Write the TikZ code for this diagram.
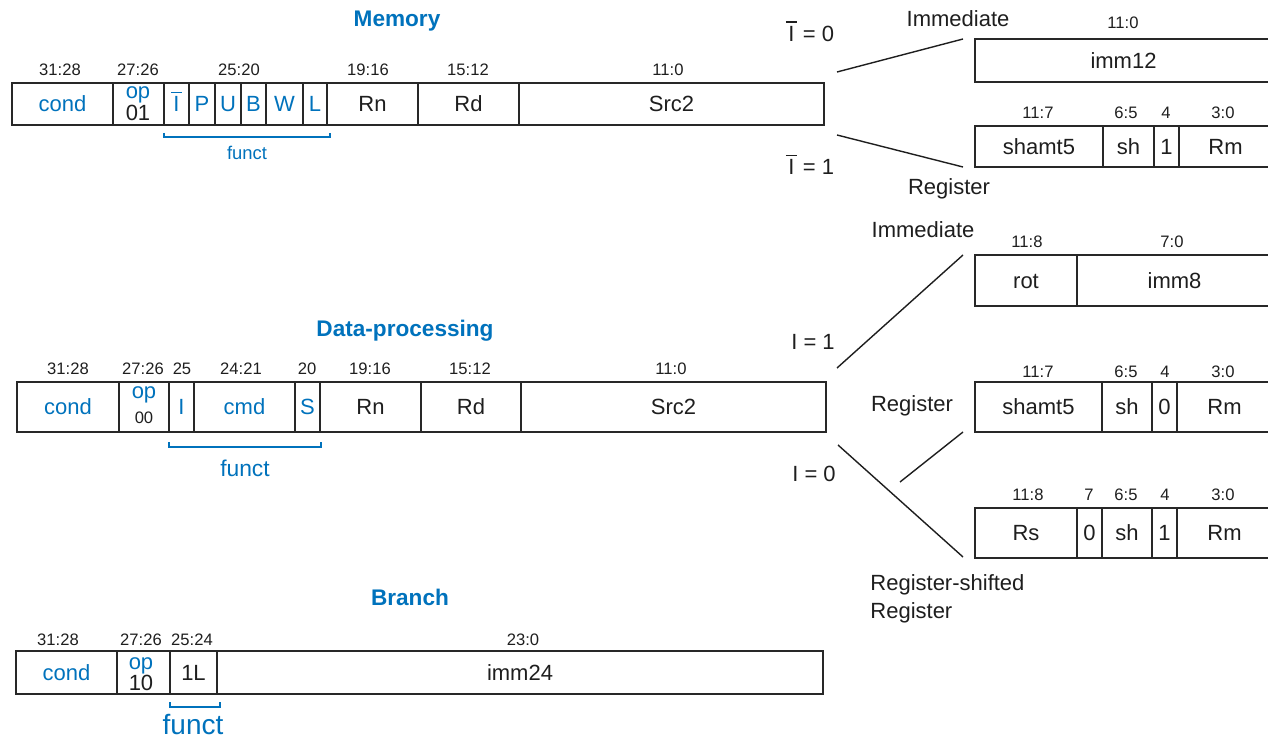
\documentclass[tikz,border=0pt]{standalone}
\usepackage{fontspec}
\setmainfont{Liberation Sans}
\definecolor{armblue}{RGB}{0,114,188}
\definecolor{ink}{RGB}{30,30,30}
\definecolor{edge}{RGB}{40,40,40}
% capital I with a wide bar over it (inverted immediate bit)
\newcommand{\barI}{\vbox{\hrule width 0.5em height 0.065em\kern 0.16em\hbox to 0.5em{\hss I\hss}}}
% one field of an instruction word: [style]{name}{x1}{x2}{y1}{y2}{text}
\newcommand{\fld}[7][]{%
  \pgfmathsetmacro{\fldw}{(#4-#3)*0.5}%
  \pgfmathsetmacro{\fldh}{(#6-#5)*0.5}%
  \node[cell,#1,minimum width=\fldw pt,minimum height=\fldh pt]
    (#2) at ({(#3+#4)/2},{(#5+#6)/2}) {#7};}
\begin{document}
\begin{tikzpicture}[x=0.5pt,y=-0.5pt,
  % every text box spans baseline to cap height, so "at" is the cap middle
  cap/.style={text height=#1, text depth=0pt},
  cell/.style={draw=edge, line width=0.9pt, inner sep=0pt, text=ink,
               font=\fontsize{11}{13}\selectfont, cap=7.9pt},
  blu/.style={text=armblue},
  bits/.style={text=ink, inner sep=0pt, font=\fontsize{8.3}{10}\selectfont, cap=5.95pt},
  lbl/.style={text=ink, inner sep=0pt, font=\fontsize{11}{13}\selectfont, cap=7.9pt},
  small/.style={font=\fontsize{8.3}{10}\selectfont},
  title/.style={text=armblue, inner sep=0pt, font=\fontsize{11.3}{13}\selectfont\bfseries, cap=8.1pt},
  link/.style={draw=ink, line width=0.7pt},
  brace/.style={draw=armblue, line width=0.75pt},
  functlbl/.style={text=armblue, inner sep=0pt}]
\path[use as bounding box] (0,0) rectangle (1268,737);
\clip (0,0) rectangle (1268,737);

% ---------------- Memory ----------------
\node[title] (t-mem) at (397,18.5) {Memory};
\fld[blu]{m-cond}{12}{113}{83}{125}{cond}
\fld{m-op}{113}{164}{83}{125}{}
\fld[blu]{m-nI}{164}{189}{83}{125}{\barI}
\fld[blu]{m-P}{189}{215}{83}{125}{P}
\fld[blu]{m-U}{215}{241}{83}{125}{U}
\fld[blu]{m-B}{241}{266}{83}{125}{B}
\fld[blu]{m-W}{266}{303}{83}{125}{W}
\fld[blu]{m-L}{303}{327}{83}{125}{L}
\fld{m-Rn}{327}{418}{83}{125}{Rn}
\fld{m-Rd}{418}{519}{83}{125}{Rd}
\fld{m-src}{519}{824}{83}{125}{Src2}
\node[lbl,blu,anchor=base] (m-op-t) at (138,99) {op};
\node[lbl,anchor=base] (m-op-v) at (138,120.5) {01};
\node[bits] (m-b1) at (60,70) {31:28};
\node[bits] (m-b2) at (138,70) {27:26};
\node[bits] (m-b3) at (239,70) {25:20};
\node[bits] (m-b4) at (368,70) {19:16};
\node[bits] (m-b5) at (468,70) {15:12};
\node[bits] (m-b6) at (668,70) {11:0};
\coordinate (m-fa) at (164,133);
\coordinate (m-fb) at (330,133);
\draw[brace] (m-fa) -- ++(0,4) -| (m-fb);
\node[functlbl, font=\fontsize{9.2}{11}\selectfont, cap=6.6pt] (m-funct) at (247,152.5) {funct};

% Src2 variants for memory instructions
\node[lbl] (m-i0) at (810,33.5) {\barI\ = 0};
\node[lbl] (m-i1) at (810,167) {\barI\ = 1};
\node[lbl] (m-imm) at (958,19) {Immediate};
\node[lbl] (m-reg) at (949,187) {Register};
\coordinate (m-a1) at (837,72);  \coordinate (m-b1e) at (963,39);
\coordinate (m-a2) at (837,135); \coordinate (m-b2e) at (963,167);
\draw[link] (m-a1) -- (m-b1e);
\draw[link] (m-a2) -- (m-b2e);

\node[bits] (r0-b1) at (1123,23) {11:0};
\fld{r0-imm}{975}{1272}{39}{82}{imm12}

\node[bits] (r1-b1) at (1038,113) {11:7};
\node[bits] (r1-b2) at (1126,113) {6:5};
\node[bits] (r1-b3) at (1166,113) {4};
\node[bits] (r1-b4) at (1223,113) {3:0};
\fld{r1-sh5}{975}{1103}{126}{167}{shamt5}
\fld{r1-sh}{1103}{1154}{126}{167}{sh}
\fld{r1-one}{1154}{1179}{126}{167}{1}
\fld{r1-rm}{1179}{1272}{126}{167}{Rm}

% ---------------- Data-processing ----------------
\node[title] (t-dp) at (405,328) {Data-processing};
\fld[blu]{d-cond}{17}{119}{382}{432}{cond}
\fld{d-op}{119}{169}{382}{432}{}
\fld[blu]{d-I}{169}{194}{382}{432}{I}
\fld[blu]{d-cmd}{194}{295}{382}{432}{cmd}
\fld[blu]{d-S}{295}{320}{382}{432}{S}
\fld{d-Rn}{320}{421}{382}{432}{Rn}
\fld{d-Rd}{421}{521}{382}{432}{Rd}
\fld{d-src}{521}{826}{382}{432}{Src2}
\node[lbl,blu,anchor=base] (d-op-t) at (144,398.5) {op};
\node[lbl,small,anchor=base] (d-op-v) at (144,423.5) {00};
\node[bits] (d-b1) at (68,369) {31:28};
\node[bits] (d-b2) at (143,369) {27:26};
\node[bits] (d-b3) at (182,369) {25};
\node[bits] (d-b4) at (241,369) {24:21};
\node[bits] (d-b5) at (307,369) {20};
\node[bits] (d-b6) at (370,369) {19:16};
\node[bits] (d-b7) at (470,369) {15:12};
\node[bits] (d-b8) at (671,369) {11:0};
\coordinate (d-fa) at (169,442);
\coordinate (d-fb) at (321,442);
\draw[brace] (d-fa) -- ++(0,5) -| (d-fb);
\node[functlbl, font=\fontsize{11.4}{13}\selectfont, cap=8.2pt] (d-funct) at (245,468.5) {funct};

% Src2 variants for data-processing instructions
\node[lbl] (d-i1) at (813,341.5) {I = 1};
\node[lbl] (d-i0) at (814,473.5) {I = 0};
\node[lbl] (d-imm) at (923,230) {Immediate};
\node[lbl] (d-reg) at (912,404) {Register};
\node[lbl, anchor=west] (d-rsr1) at (870,583) {Register-shifted};
\node[lbl, anchor=west] (d-rsr2) at (870,611) {Register};
\coordinate (d-a1) at (837,368); \coordinate (d-b1e) at (963,255);
\coordinate (d-a2) at (900,482); \coordinate (d-b2e) at (963,432);
\coordinate (d-a3) at (838,445); \coordinate (d-b3e) at (963,557);
\draw[link] (d-a1) -- (d-b1e);
\draw[link] (d-a2) -- (d-b2e);
\draw[link] (d-a3) -- (d-b3e);

\node[bits] (r2-b1) at (1027,242) {11:8};
\node[bits] (r2-b2) at (1172,242) {7:0};
\fld{r2-rot}{975}{1077}{255}{306}{rot}
\fld{r2-imm}{1077}{1272}{255}{306}{imm8}

\node[bits] (r3-b1) at (1038,372) {11:7};
\node[bits] (r3-b2) at (1126,372) {6:5};
\node[bits] (r3-b3) at (1165,372) {4};
\node[bits] (r3-b4) at (1223,372) {3:0};
\fld{r3-sh5}{975}{1102}{382}{432}{shamt5}
\fld{r3-sh}{1102}{1152}{382}{432}{sh}
\fld{r3-zero}{1152}{1177}{382}{432}{0}
\fld{r3-rm}{1177}{1272}{382}{432}{Rm}

\node[bits] (r4-b1) at (1028,495) {11:8};
\node[bits] (r4-b2) at (1089,495) {7};
\node[bits] (r4-b3) at (1126,495) {6:5};
\node[bits] (r4-b4) at (1165,495) {4};
\node[bits] (r4-b5) at (1223,495) {3:0};
\fld{r4-rs}{975}{1077}{508}{558}{Rs}
\fld{r4-zero}{1077}{1102}{508}{558}{0}
\fld{r4-sh}{1102}{1152}{508}{558}{sh}
\fld{r4-one}{1152}{1177}{508}{558}{1}
\fld{r4-rm}{1177}{1272}{508}{558}{Rm}

% ---------------- Branch ----------------
\node[title] (t-br) at (410,597) {Branch};
\fld[blu]{b-cond}{16}{117}{651}{694}{cond}
\fld{b-op}{117}{170}{651}{694}{}
\fld{b-fn}{170}{217}{651}{694}{1L}
\fld{b-imm}{217}{823}{651}{694}{imm24}
\node[lbl,blu,anchor=base] (b-op-t) at (141,669) {op};
\node[lbl,anchor=base] (b-op-v) at (141,690.5) {10};
\node[bits] (b-b1) at (58,640) {31:28};
\node[bits] (b-b2) at (141,640) {27:26};
\node[bits] (b-b3) at (192,640) {25:24};
\node[bits] (b-b4) at (523,640) {23:0};
\coordinate (b-fa) at (170,702);
\coordinate (b-fb) at (220,702);
\draw[brace] (b-fa) -- ++(0,5) -| (b-fb);
\node[functlbl, font=\fontsize{14}{16}\selectfont, cap=10pt] (b-funct) at (193,724) {funct};
\end{tikzpicture}
\end{document}
